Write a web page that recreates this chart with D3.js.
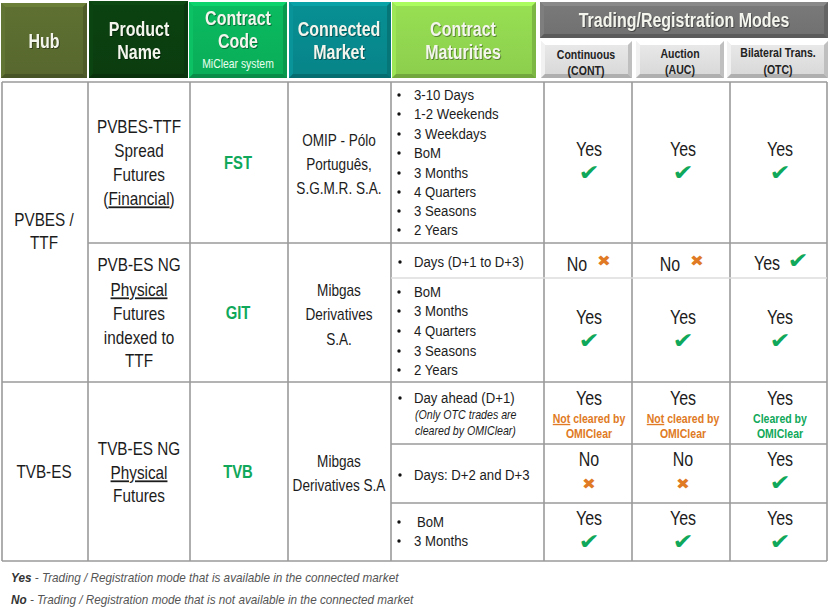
<!DOCTYPE html>
<html><head><meta charset="utf-8">
<script src="https://cdn.jsdelivr.net/npm/d3@7/dist/d3.min.js"></script>
<style>html,body{margin:0;background:#fff}svg{display:block}text{font-family:"Liberation Sans",Arial,sans-serif}</style>
</head><body><div id="c"></div>
<script>
// ---- content ----
const headers = [["Hub"],["Product","Name"],["Contract","Code"],["Connected","Market"],["Contract","Maturities"]];
const headerNote = "MiClear system";
const groupHeader = "Trading/Registration Modes";
const modes = [["Continuous","(CONT)"],["Auction","(AUC)"],["Bilateral Trans.","(OTC)"]];
const hubs = [["PVBES /","TTF"],["TVB-ES"]];
const products = [["PVBES-TTF","Spread","Futures","(_Financial_)"],["PVB-ES NG","_Physical_","Futures","indexed to","TTF"],["TVB-ES NG","_Physical_","Futures"]];
const codes = ["FST","GIT","TVB"];
const markets = [["OMIP - Pólo","Português,","S.G.M.R. S.A."],["Mibgas","Derivatives","S.A."],["Mibgas","Derivatives S.A"]];
const maturities = [
  ["3-10 Days","1-2 Weekends","3 Weekdays","BoM","3 Months","4 Quarters","3 Seasons","2 Years"],
  ["Days (D+1 to D+3)"],
  ["BoM","3 Months","4 Quarters","3 Seasons","2 Years"],
  ["Day ahead (D+1)"],
  ["Days: D+2 and D+3"],
  ["BoM","3 Months"]];
const maturityNote = ["(Only OTC trades are","cleared by OMIClear)"];
const availability = [["Yes","Yes","Yes"],["No","No","Yes"],["Yes","Yes","Yes"],["Yes","Yes","Yes"],["No","No","Yes"],["Yes","Yes","Yes"]];
const clearing = [["_Not_ cleared by","OMIClear"],["_Not_ cleared by","OMIClear"],["Cleared by","OMIClear"]];
const footnotes = [["Yes"," - Trading / Registration mode that is available in the connected market"],["No"," - Trading / Registration mode that is not available in the connected market"]];

// ---- layout ----
const GREEN="#10a85a", ORANGE="#e07a24", LINE="#9a9a9a", INK="#1c1c1c";
const colEdge = d3.scaleOrdinal().domain(d3.range(9)).range([2,88,190,288,391,544,632,730,827]);
const rowEdge = d3.scaleOrdinal().domain(d3.range(7)).range([82,243,278,382,444,503,561]);
const modeX = d3.scaleOrdinal().domain([0,1,2]).range([589,683,780]);
const headX = d3.scaleOrdinal().domain([0,1,2,3,4]).range([44,139,238,339,463]);
const headBox = [[1,3,87,78,"#5b6c30"],[89,1,188,78,"#0b3f10"],[189,2,287,78,"#0ab45c"],[289,2,391,78,"#078a8e"],[392,2,536,78,"#92d750"]];
const modeBox = [[541,41,632,78],[636,41,724,78],[727,41,828,78]];
const hubY = [[220,243],[472]];
const productY = [[127,151,175,199],[265,290,314,338,361],[449,473,496]];
const codeY = [163,313,472];
const marketY = [[140,164,188],[290,314,339],[461,485]];
const matY = [[95,114,134,153,173,192,211,230],[262],[292,311,331,351,370],[398],[475],[522,541]];
const yesY = [[149,172],null,[317,340],[398,null],[459,484],[518,541]];

const svg = d3.select("#c").append("svg").attr("width",830).attr("height",611);
const txt=(x,y,s,o={})=>{
  const t=svg.append("text").attr("transform",`translate(${x},${y}) scale(${o.sx||0.85},1)`).attr("dy","0.35em")
    .attr("text-anchor",o.anchor||"middle").attr("font-size",o.size||18)
    .attr("font-weight",o.weight||null).attr("font-style",o.style||null)
    .attr("fill",o.fill||INK);
  if(o.family) t.style("font-family",o.family);
  if(o.shadow) t.style("filter","drop-shadow(1px 1px 0.5px rgba(0,0,0,.4))");
  s.split("_").forEach((p,i)=>{ if(p) t.append("tspan").text(p).attr("text-decoration",i%2?"underline":null); });
  return t;
};
function bevel([x0,y0,x1,y1],col,b=4){
  const c=d3.color(col), g=svg.append("g");
  const id="g"+x0+"_"+y0;
  const gr=svg.append("linearGradient").attr("id",id).attr("x1",0).attr("x2",0).attr("y1",0).attr("y2",1);
  gr.append("stop").attr("offset",0).attr("stop-color",c.brighter(.12));
  gr.append("stop").attr("offset",1).attr("stop-color",c.darker(.12));
  g.append("rect").attr("x",x0).attr("y",y0).attr("width",x1-x0).attr("height",y1-y0).attr("fill",`url(#${id})`);
  const poly=(pts,f)=>g.append("polygon").attr("points",pts.map(p=>p.join(",")).join(" ")).attr("fill",f);
  poly([[x0,y0],[x1,y0],[x1-b,y0+b],[x0+b,y0+b]],c.brighter(.45));
  poly([[x0,y0],[x0+b,y0+b],[x0+b,y1-b],[x0,y1]],c.brighter(.2));
  poly([[x1,y0],[x1,y1],[x1-b,y1-b],[x1-b,y0+b]],c.darker(.45));
  poly([[x0,y1],[x1,y1],[x1-b,y1-b],[x0+b,y1-b]],c.darker(.7));
}
// header
headBox.forEach(b=>bevel(b.slice(0,4),b[4]));
bevel([540,2,828,38],"#757575");
modeBox.forEach(b=>bevel(b,"#e0e0e0"));
const headW={weight:"bold",size:20,fill:"#f4f6ee",shadow:true,sx:0.8};
txt(headX(0),41,headers[0][0],headW);
[[1,[29,52]],[2,[18,41]],[3,[29,52]],[4,[29,52]]].forEach(([i,ys])=>headers[i].forEach((s,k)=>txt(headX(i),ys[k],s,headW)));
txt(headX(2),63,headerNote,{size:13,fill:"#eafff0",sx:0.8});
txt(684,20,groupHeader,headW);
const modeY=[[54,70],[53,69],[52,69]];
modes.forEach((m,i)=>m.forEach((s,k)=>txt([586,680,778][i],modeY[i][k],s,{weight:"bold",size:13.5,fill:"#222",sx:0.78})));

// grid
const L=(x1,y1,x2,y2,c=LINE,w=1.6)=>svg.append("line").attr("x1",x1).attr("y1",y1).attr("x2",x2).attr("y2",y2).attr("stroke",c).attr("stroke-width",w);
d3.range(9).forEach(i=>L(colEdge(i),rowEdge(0),colEdge(i),rowEdge(6)));
L(colEdge(0),rowEdge(0),colEdge(8),rowEdge(0));
L(colEdge(1),rowEdge(1),colEdge(8),rowEdge(1));
L(colEdge(4),rowEdge(2),colEdge(8),rowEdge(2),"#dcdcdc");
L(colEdge(0),rowEdge(3),colEdge(8),rowEdge(3));
L(colEdge(4),rowEdge(4),colEdge(8),rowEdge(4));
L(colEdge(4),rowEdge(5),colEdge(8),rowEdge(5));
L(colEdge(0),rowEdge(6),colEdge(8),rowEdge(6));

// left columns
hubs.forEach((h,i)=>h.forEach((s,k)=>txt(headX(0),hubY[i][k],s)));
products.forEach((p,i)=>p.forEach((s,k)=>txt(headX(1),productY[i][k],s)));
codes.forEach((s,i)=>txt(headX(2),codeY[i],s,{weight:"bold",size:18.5,fill:GREEN,sx:0.8}));
markets.forEach((m,i)=>m.forEach((s,k)=>txt(headX(3),marketY[i][k],s,{size:16})));

// maturities
const bullet=(x,y)=>svg.append("circle").attr("cx",x).attr("cy",y).attr("r",1.7).attr("fill","#111");
maturities.forEach((m,i)=>m.forEach((s,k)=>{
  const y=matY[i][k];
  bullet(i===1||i===3||i===4?400:399,y);
  txt(i===5&&k===0?417:414,y,s,{anchor:"start",size:15.5});
}));
maturityNote.forEach((s,k)=>txt(415,[415,431][k],s,{anchor:"start",size:12.5,style:"italic"}));

// marks
const tick=(x,y)=>txt(x,y,"✔",{size:22,fill:GREEN,family:"DejaVu Sans",sx:1.15});
const cross=(x,y)=>txt(x,y,"✖",{size:15,fill:ORANGE,family:"DejaVu Sans",sx:1.1});
const yes={size:20,sx:0.8};
availability.forEach((row,r)=>row.forEach((v,c)=>{
  if(r===1){ // inline row
    const x=[577,670,767][c], y=v==="No"?264:263;
    txt(x,y,v,yes);
    if(v==="No") cross([604,697][c],261); else tick(798,260);
    return;
  }
  const [y1,y2]=yesY[r], x=modeX(c);
  txt(x,y1,v,yes);
  if(r===3){
    clearing[c].forEach((s,k)=>txt(x,[418,433][k],s,{weight:"bold",size:13.5,fill:c===2?GREEN:ORANGE,sx:0.78}));
  } else if(v==="Yes") tick(x,c===2&&r===4?482:y2); else cross(x,y2);
}));

// footnotes
footnotes.forEach((f,i)=>{
  const t=svg.append("text").attr("transform",`translate(11,${[577,599][i]}) scale(0.87,1)`).attr("dy","0.35em").attr("font-size",13.5).attr("font-style","italic").attr("fill","#555");
  t.append("tspan").attr("font-weight","bold").attr("fill","#333").text(f[0]);
  t.append("tspan").text(f[1]);
});
</script></body></html>
